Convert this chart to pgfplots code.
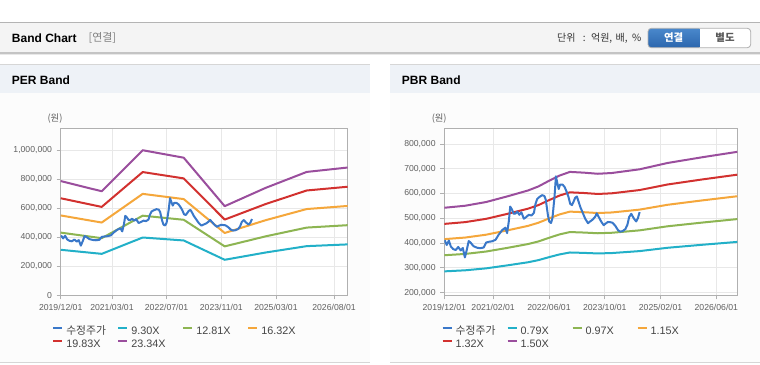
\documentclass[border=0pt]{standalone}
\usepackage{fontspec}
\setmainfont{Liberation Sans}
\newfontfamily\kr{Noto Sans CJK KR}
\usepackage{pgfplots}
\pgfplotsset{compat=1.18}
\usepackage{pgfplotstable}

\definecolor{cPrice}{HTML}{3A78C9}
\definecolor{cCyan}{HTML}{22B0C8}
\definecolor{cGreen}{HTML}{8DB552}
\definecolor{cOrange}{HTML}{F5A73B}
\definecolor{cRed}{HTML}{D2312F}
\definecolor{cPurple}{HTML}{9A4E9D}
\definecolor{axisgray}{HTML}{B0B0B0}
\definecolor{gridgray}{HTML}{E8E8E8}
\definecolor{tickgray}{HTML}{606060}
\definecolor{legtext}{HTML}{444444}
\definecolor{hdrbg}{HTML}{F4F4F4}
\definecolor{hdrline}{HTML}{B4B4B4}
\definecolor{hdrshadow}{HTML}{C4C4C4}
\definecolor{panelhead}{HTML}{EEF2F7}
\definecolor{panelbody}{HTML}{FCFCFC}
\definecolor{panelline}{HTML}{D6D6D6}
\definecolor{btnTop}{HTML}{4A88CC}
\definecolor{btnBot}{HTML}{2B66AD}
\definecolor{btnBorder}{HTML}{B0B0B0}

\pgfplotstableread{
m v
0.1 412000
0.7 392000
1.3 410000
1.9 385000
2.6 375000
3.3 372000
4.0 384000
4.7 370000
5.3 380000
5.9 342000
6.5 376000
7.0 408000
7.5 402000
8.4 387000
9.4 381000
10.3 379000
11.3 382000
12.0 402000
12.8 405000
13.7 407000
14.7 413000
15.6 434000
16.6 452000
17.5 462000
18.0 440000
18.5 488000
18.9 547000
19.4 535000
19.9 518000
20.4 519000
20.9 527000
21.5 514000
22.1 524000
22.8 498000
23.5 505000
24.2 514000
25.0 511000
25.7 522000
26.1 555000
26.6 577000
27.1 584000
28.0 593000
28.7 590000
29.1 574000
29.7 513000
30.1 486000
30.6 481000
31.0 500000
31.6 587000
32.0 669000
32.4 642000
32.8 618000
33.2 636000
33.9 636000
34.5 626000
35.1 606000
35.6 586000
36.1 558000
36.6 553000
37.1 568000
37.5 582000
38.0 588000
38.5 567000
39.0 545000
39.6 525000
40.4 498000
41.2 480000
41.8 487000
42.5 494000
43.3 507000
43.7 520000
44.2 507000
45.0 486000
45.7 472000
46.3 479000
46.9 485000
47.6 484000
48.2 482000
49.0 470000
49.8 452000
50.4 446000
51.1 448000
51.9 456000
52.5 474000
53.0 505000
53.6 518000
54.3 500000
55.0 487000
55.5 500000
56.0 525000
}\price

\pgfplotstableread{
m b1 b2 b3 b4 b5
0 313400 431700 550000 668300 786600
12 285500 393300 501000 608800 716500
24 398000 548300 698500 848700 999000
36 377600 520100 662600 805100 947600
48 244600 336900 429200 521500 613800
60 294800 406100 517300 628600 739900
72 338500 466300 594000 721800 849600
84 350600 482900 615300 747600 879900
}\perband

\pgfplotstableread{
m b1 b2 b3 b4 b5
0 285600 350700 415700 477200 542300
6 289900 356000 422100 484400 550500
12 297800 365700 433600 497600 565500
18 309700 380200 450800 517400 588000
24 322300 395800 469200 538600 612000
27 331000 406400 481900 553100 628500
30 342900 421000 499100 572900 651000
33 353900 434600 515200 591400 672000
36 361800 444300 526700 604600 687000
40 360200 442300 524400 601900 684000
44 357900 439400 521000 598000 679500
48 359500 441400 523300 600600 682500
52 363400 446200 529000 607200 690000
56 367400 451100 534800 613800 697500
64 380800 467500 554300 636200 723000
74 393000 482600 572100 656700 746300
84 404500 496600 588800 675800 768000
}\pbrband

\pgfplotsset{
  bandaxis/.style={
    scale only axis, anchor=south west,
    height=125.25pt,
    xmin=0, xmax=84,
    axis line style={draw=axisgray, line width=0.6pt},
    tick align=outside, tick pos=left,
    major tick length=3pt,
    tick style={draw=axisgray, line width=0.6pt},
    grid=major, grid style={draw=gridgray, line width=0.6pt},
    scaled y ticks=false,
    /pgf/number format/assume math mode=true,
    /pgf/number format/fixed,
    /pgf/number format/1000 sep={,},
    tick label style={font=\fontsize{6.5}{7}\selectfont, text=tickgray},
    legend cell align=left,
    legend columns=4,
    legend style={draw=none, fill=none, inner sep=0pt, outer sep=0pt,
      anchor=north west, font=\fontsize{8.1}{9}\selectfont, text=legtext,
      row sep=2.5pt,
      nodes={inner sep=0pt, text height=6pt, text depth=1.5pt, text width=38.25pt, align=left},
      /tikz/every odd column/.append style={column sep=2.25pt}},
    legend image code/.code={\draw[#1, line width=1.5pt] (0pt,2.6pt) -- (6.75pt,2.6pt);},
    every axis plot/.append style={line width=1.5pt, line join=round},
    axis background/.style={fill=white},
  }
}

\begin{document}
\begin{tikzpicture}
\useasboundingbox (0,0) rectangle (570pt,-273pt);
\begin{scope}[x=0.75pt,y=-0.75pt]
  \fill[white] (0,0) rectangle (760,364);
  % header bar
  \fill[hdrbg] (0,22.3) rectangle (760,52.7);
  \draw[hdrline, line width=0.75pt] (0,22.3) -- (760,22.3);
  \draw[hdrshadow, line width=0.9pt] (0,53) -- (760,53);
  \draw[gridgray, line width=0.75pt] (0,54.2) -- (760,54.2);
  \node[anchor=west, inner sep=0, font=\bfseries\fontsize{9}{10}\selectfont] at (11.7,38) {Band Chart};
  \node[anchor=west, inner sep=0, font=\kr\fontsize{8.2}{10}\selectfont, text=black!50] at (88.3,38) {[연결]};
  \node[anchor=east, inner sep=0, font=\kr\fontsize{7.5}{9}\selectfont, text=black!80] at (641.7,38) {단위\hspace{5.5pt}:\hspace{4pt}억원,\hspace{2.5pt}배,\hspace{3.5pt}\%};
  % buttons
  \begin{scope}
    \clip[rounded corners=2.5] (648,28.3) rectangle (750.7,47.7);
    \fill[white] (648,28.3) rectangle (750.7,47.7);
    \shade[top color=btnTop, bottom color=btnBot] (648,28.3) rectangle (699.3,47.7);
  \end{scope}
  \draw[btnBorder, line width=0.6pt, rounded corners=2.5] (648,28.3) rectangle (750.7,47.7);
  \node[inner sep=0, font=\kr\bfseries\fontsize{7.8}{9}\selectfont, text=white] at (673.7,38) {연결};
  \node[inner sep=0, font=\kr\bfseries\fontsize{7.8}{9}\selectfont, text=black!65] at (725,38) {별도};
  % panels
  \foreach \xa/\xb in {0/370, 390/760} {
    \fill[panelbody] (\xa,92.7) rectangle (\xb,362.4);
    \fill[panelhead] (\xa,64.5) rectangle (\xb,92.7);
    \draw[panelline, line width=0.75pt] (\xa,64.3) -- (\xb,64.3);
    \draw[panelline, line width=0.75pt] (\xa,362.7) -- (\xb,362.7);
  }
  \node[anchor=west, inner sep=0, font=\bfseries\fontsize{9}{10}\selectfont] at (11.7,80.5) {PER Band};
  \node[anchor=west, inner sep=0, font=\bfseries\fontsize{9}{10}\selectfont] at (401.7,80.5) {PBR Band};
  \node[inner sep=0, font=\kr\fontsize{7}{8}\selectfont, text=tickgray] at (55,118.3) {(원)};
  \node[inner sep=0, font=\kr\fontsize{7}{8}\selectfont, text=tickgray] at (439.2,118.3) {(원)};
\end{scope}

% PER axis
\begin{axis}[bandaxis,
  at={(45.525pt,-221.475pt)}, width=215.25pt,
  ymin=0, ymax=1150000,
  ytick={0,200000,400000,600000,800000,1000000},
  xtick={0,15,31,47,63,80},
  xticklabels={2019/12/01,2021/03/01,2022/07/01,2023/11/01,2025/03/01,2026/08/01},
  legend style={at={(-0.0293,-0.1856)}},
]
\addlegendimage{cPrice}\addlegendentry{{\kr 수정주가}}
\addlegendimage{cCyan}\addlegendentry{9.30X}
\addlegendimage{cGreen}\addlegendentry{12.81X}
\addlegendimage{cOrange}\addlegendentry{16.32X}
\addlegendimage{cRed}\addlegendentry{19.83X}
\addlegendimage{cPurple}\addlegendentry{23.34X}
\addplot[cCyan, forget plot] table[x=m,y=b1]{\perband};
\addplot[cGreen, forget plot] table[x=m,y=b2]{\perband};
\addplot[cOrange, forget plot] table[x=m,y=b3]{\perband};
\addplot[cRed, forget plot] table[x=m,y=b4]{\perband};
\addplot[cPurple, forget plot] table[x=m,y=b5]{\perband};
\addplot[cPrice, forget plot] table[x=m,y=v]{\price};
\end{axis}

% PBR axis
\begin{axis}[bandaxis,
  at={(333.225pt,-221.475pt)}, width=219.75pt,
  ymin=189000, ymax=863000,
  ytick={200000,300000,400000,500000,600000,700000,800000},
  xtick={0,14,30,46,62,78},
  xticklabels={2019/12/01,2021/02/01,2022/06/01,2023/10/01,2025/02/01,2026/06/01},
  legend style={at={(-0.0089,-0.1856)}},
]
\addlegendimage{cPrice}\addlegendentry{{\kr 수정주가}}
\addlegendimage{cCyan}\addlegendentry{0.79X}
\addlegendimage{cGreen}\addlegendentry{0.97X}
\addlegendimage{cOrange}\addlegendentry{1.15X}
\addlegendimage{cRed}\addlegendentry{1.32X}
\addlegendimage{cPurple}\addlegendentry{1.50X}
\addplot[cCyan, forget plot] table[x=m,y=b1]{\pbrband};
\addplot[cGreen, forget plot] table[x=m,y=b2]{\pbrband};
\addplot[cOrange, forget plot] table[x=m,y=b3]{\pbrband};
\addplot[cRed, forget plot] table[x=m,y=b4]{\pbrband};
\addplot[cPurple, forget plot] table[x=m,y=b5]{\pbrband};
\addplot[cPrice, forget plot] table[x=m,y=v]{\price};
\end{axis}
\end{tikzpicture}
\end{document}
